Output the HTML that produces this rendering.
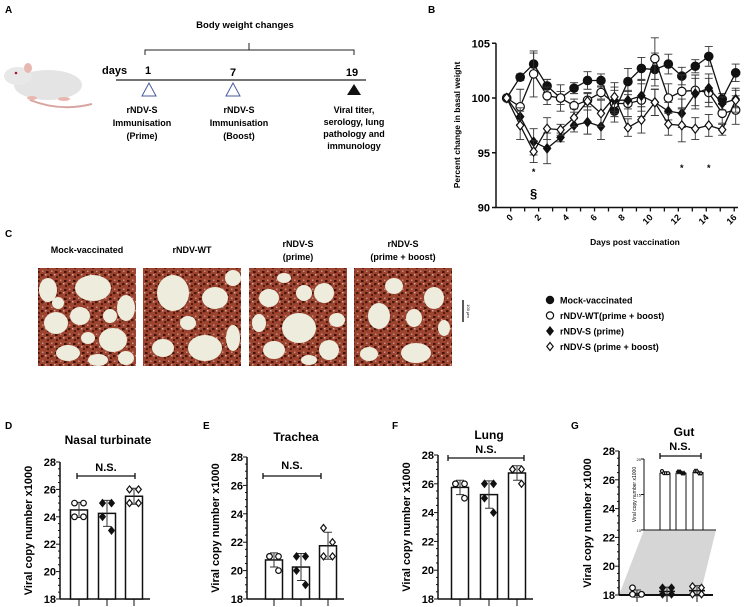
<!DOCTYPE html>
<html><head><meta charset="utf-8"><style>
body{margin:0;background:#fff;}
svg{display:block;font-family:"Liberation Sans",Arial,sans-serif;}
.b{font-weight:bold;}
</style></head><body>
<svg id="fig" width="749" height="607" viewBox="0 0 749 607" xmlns="http://www.w3.org/2000/svg">
<defs>
<pattern id="tissue" width="9" height="9" patternUnits="userSpaceOnUse">
<rect width="9" height="9" fill="#9c4430"/>
<rect x="1" y="1" width="2.5" height="2" fill="#3e120a"/>
<rect x="5" y="4" width="2.5" height="2.2" fill="#4a160c"/>
<rect x="2" y="6" width="2" height="2" fill="#5a1c10"/>
<rect x="6" y="0.5" width="1.5" height="1.5" fill="#c89080"/>
<rect x="0" y="4" width="1.5" height="1.5" fill="#d0a898"/>
</pattern>
</defs>
<g>
<text x="5" y="13" font-size="10" class="b">A</text>
<g>
<path d="M30,100 Q60,112 92,104" stroke="#d9a5a0" stroke-width="2" fill="none"/>
<ellipse cx="48" cy="85" rx="34" ry="15" fill="#e4e4e4"/>
<ellipse cx="18" cy="76" rx="14" ry="9" fill="#e8e8e8"/>
<ellipse cx="28" cy="68" rx="4" ry="5" fill="#e8b8b0"/>
<circle cx="16" cy="73" r="1.3" fill="#a02030"/>
<ellipse cx="32" cy="98" rx="5" ry="2" fill="#e8b8b0"/>
<ellipse cx="64" cy="99" rx="6" ry="2" fill="#e8b8b0"/>
</g>
<text x="245" y="28" font-size="9.5" class="b" text-anchor="middle">Body weight changes</text>
<path d="M145,55 V50 H354 V55 M249,50 V43" stroke="#222" fill="none"/>
<text x="102" y="74" font-size="11" class="b">days</text>
<text x="148" y="74" font-size="11" class="b" text-anchor="middle">1</text>
<text x="233" y="76" font-size="11" class="b" text-anchor="middle">7</text>
<text x="352" y="76" font-size="11" class="b" text-anchor="middle">19</text>
<line x1="116" y1="80" x2="366" y2="80" stroke="#222" stroke-width="1.3"/>
<polygon points="149,83 142,96 156,96" fill="none" stroke="#4a5aa0"/>
<polygon points="233,83 226,96 240,96" fill="none" stroke="#4a5aa0"/>
<polygon points="354,84 347,95 361,95" fill="#111"/>
<g font-size="9" class="b" text-anchor="middle">
<text x="142" y="113">rNDV-S</text><text x="142" y="126">Immunisation</text><text x="142" y="139">(Prime)</text>
<text x="239" y="113">rNDV-S</text><text x="239" y="126">Immunisation</text><text x="239" y="139">(Boost)</text>
<text x="354" y="113">Viral titer,</text><text x="354" y="125">serology, lung</text><text x="354" y="137">pathology and</text><text x="354" y="149">immunology</text>
</g>
</g>
<text x="428" y="13" font-size="10" class="b">B</text>
<g id="pb"></g>
<text x="5" y="237" font-size="10" class="b">C</text>
<g id="pc"></g>
<g id="pd"></g>
<g id="pe"></g>
<g id="pf"></g>
<g id="pg"></g>
</svg>
<script>
const dayIdx = [0,1,2,3,4,5,6,7,8,9,10,11,12,13,14,15,16,17];
const xTickLabels = ["0","2","4","6","8","10","12","14","16"];
const yTicksB = [90,95,100,105];
const mockVals = [100,101.9,103.1,101.1,100,100.9,101.6,101.6,98.8,101.5,102.7,102.6,103.1,102.0,102.9,103.8,99.9,102.3];
const wtVals = [100,99.2,102.2,100.2,100,99.3,99.8,100.5,99.5,99.5,99.8,103.6,100,100.6,100.7,100.5,98.6,98.9];
const sPrimeVals = [100,98.3,96.0,95.4,96.4,97.5,97.8,97.4,99.8,99.8,100.2,99.6,98.8,98.6,100.4,100.9,99.5,99.9];
const sBoostVals = [100,97.5,95.1,97.2,97.1,98.2,99.7,98.6,100.1,97.3,98.0,99.6,97.6,97.5,97.2,97.5,97.1,99.8];
const mockErr = [0,0.3,1.0,0.6,1.2,0.5,0.8,0.6,1.0,1.2,1.0,1.5,0.9,0.8,0.6,0.9,0.5,0.8];
const wtErr = [0,1.6,2.1,0.8,0.6,0.6,0.6,0.6,1.2,1.2,1.5,1.9,1.3,1.5,1.4,1.3,0.9,1.3];
const sPrimeErr = [0,0.8,1.2,1.4,0.4,0.6,1.1,1.2,1.2,0.8,1.4,1.2,0.8,1.3,1.4,1.3,0.6,0.8];
const sBoostErr = [0,1.3,1.0,1.0,0.5,0.8,0.8,1.2,1.3,0.8,1.2,1.2,1.0,1.5,1.0,1.0,0.5,1.1];

const groups = ["rNDV-WT","rNDV-S prime","rNDV-S boost"];
const nasalMeans=[24.5,24.25,25.5], nasalSd=[0.55,0.95,0.58];
const nasalPts=[[25,25,24,24],[25,25,24,23],[26,26,25,25]];
const trachMeans=[20.75,20.25,21.75], trachSd=[0.5,0.95,0.95];
const trachPts=[[21,21,21,20],[21,21,20,19],[23,22,21,21]];
const lungMeans=[25.75,25.25,26.75], lungSd=[0.5,0.95,0.5];
const lungPts=[[26,26,26,25],[26,26,25,24],[27,27,27,26]];
const gutMeans=[18.1,18.25,18.3], gutSd=[0.25,0.3,0.35];
const gutPts=[[18.5,18.05,18.05,18.05],[18.5,18.5,18.05,18.05],[18.6,18.5,18.05,18.05]];
const gutInsetMeans=[18,18,18.1];
const gutInsetPts=[[18.3,18,18,18],[18.2,18.2,18,18],[18.3,18.3,18,18]];
const barTicks=[18,20,22,24,26,28];

const NS="http://www.w3.org/2000/svg";
function mk(parent,tag,attrs){const e=document.createElementNS(NS,tag);for(const k in attrs)e.setAttribute(k,attrs[k]);parent.appendChild(e);return e;}
function txt(parent,x,y,s,size,anchor,bold,extra){const t=mk(parent,'text',Object.assign({x:x,y:y,'font-size':size,'text-anchor':anchor||'start'},extra||{}));if(bold)t.setAttribute('font-weight','bold');t.textContent=s;return t;}
function marker(parent,type,x,y,r){
  let e;
  if(type==='fc'||type==='oc'){e=mk(parent,'circle',{cx:x,cy:y,r:r,fill:type==='fc'?'#111':'#fff',stroke:'#111','stroke-width':1.2});}
  else{e=mk(parent,'polygon',{points:`${x},${y-r*1.25} ${x+r},${y} ${x},${y+r*1.25} ${x-r},${y}`,fill:type==='fd'?'#111':'#fff',stroke:'#111','stroke-width':1.2});}
  return e;
}

(function(){
 const g=document.getElementById('pb');
 const X0=496,yB=v=>98-(v-100)*10.95;
 const xPt=i=>506.7+13.47*i;
 const xTick=k=>510.7+13.97*k;
 const ax=mk(g,'path',{d:`M${X0},${yB(105)} V${yB(90)} H738`,stroke:'#111','stroke-width':1.5,fill:'none'});
 
 yTicksB.forEach(v=>{mk(g,'line',{x1:X0-4,x2:X0,y1:yB(v),y2:yB(v),stroke:'#111','stroke-width':1.5});
  const t=txt(g,X0-6,yB(v)+4,String(v),11,'end',true);});
 for(let k=0;k<=16;k++){mk(g,'line',{x1:xTick(k),x2:xTick(k),y1:yB(90),y2:yB(90)+4,stroke:'#111','stroke-width':1.3});}
 xTickLabels.forEach((s,j)=>{const x=xTick(j*2);const t=txt(g,x+3,218,s,9,'end',true,{transform:`rotate(-45 ${x+3} 218)`});
  });
 const yl=txt(g,460,125,'Percent change in basal weight',8.5,'middle',true,{transform:'rotate(-90 460 125)'});
 
 const xl=txt(g,635,245,'Days post vaccination',8.5,'middle',true);
 
 const series=[[mockVals,mockErr,'fc','mock'],[wtVals,wtErr,'oc','wt'],[sPrimeVals,sPrimeErr,'fd','s-prime'],[sBoostVals,sBoostErr,'od','s-boost']];
 series.forEach(([vals,err,type,nm])=>{
   const sg=mk(g,'g',{});
   vals.forEach((v,i)=>{if(err[i]>0){const x=xPt(dayIdx[i]);mk(sg,'path',{d:`M${x},${yB(v+err[i])} V${yB(v-err[i])} M${x-4},${yB(v+err[i])} H${x+4} M${x-4},${yB(v-err[i])} H${x+4}`,stroke:'#333','stroke-width':0.9,fill:'none'});}});
   const pl=mk(sg,'polyline',{points:vals.map((v,i)=>xPt(dayIdx[i])+','+yB(v)).join(' '),fill:'none',stroke:'#111','stroke-width':1.3});
   
   vals.forEach((v,i)=>{const m=marker(sg,type,xPt(dayIdx[i]),yB(v),type[1]==='c'?4.2:3.6);});
 });
 const a=[[xPt(2),175,'*'],[xPt(13),171,'*'],[xPt(15),171,'*']];
 a.forEach(([x,y,s])=>{const t=txt(g,x,y,s,9,'middle',true);});
 const sec=txt(g,xPt(2),198,'§',13,'middle',true);
 const lg=mk(g,'g',{});
 [['fc','Mock-vaccinated'],['oc','rNDV-WT(prime + boost)'],['fd','rNDV-S (prime)'],['od','rNDV-S (prime + boost)']].forEach(([t,s],i)=>{
   const y=300+i*15.5;marker(lg,t,550,y,t[1]==='c'?3.6:3.2);
   const e=txt(lg,560,y+3.5,s,9,'start',true);});
})();

(function(){
 const g=document.getElementById('pc');
 const titles=[['Mock-vaccinated'],['rNDV-WT'],['rNDV-S','(prime)'],['rNDV-S','(prime + boost)']];
 const xs=[38,143,249,354];
 const blobs=[
  [[55,20,18,13],[18,55,12,11],[75,72,14,12],[42,48,10,9],[88,40,9,13],[30,85,12,8],[10,22,9,12],[60,92,10,6],[72,48,7,7],[20,35,6,6],[50,70,7,6],[88,90,8,7]],
  [[30,25,16,18],[72,30,13,11],[62,80,17,13],[20,80,11,9],[90,70,7,13],[45,55,8,7],[90,10,8,8]],
  [[50,60,17,15],[20,30,10,9],[75,25,10,10],[25,82,11,9],[80,82,10,10],[55,25,8,8],[10,55,7,9],[88,52,8,7],[35,10,7,5],[60,92,8,5]],
  [[25,48,11,13],[62,85,15,10],[80,30,10,11],[40,18,9,8],[15,86,9,7],[60,50,8,9],[90,60,6,8]]];
 titles.forEach((tl,i)=>{
   const cx=xs[i]+49;
   tl.forEach((s,j)=>{const t=txt(g,cx,tl.length===1?253:247+j*13,s,9,'middle',true);});
   const ig=mk(g,'g',{});
   mk(ig,'rect',{x:xs[i],y:268,width:98,height:98,fill:'url(#tissue)'});
   blobs[i].forEach(([bx,by,rx,ry])=>mk(ig,'ellipse',{cx:xs[i]+bx,cy:268+by,rx:rx,ry:ry,fill:'#eeecdc'}));
 });
 mk(g,'line',{x1:463,x2:463,y1:300,y2:322,stroke:'#222','stroke-width':1.5});
 const sb=txt(g,467,311,'100 μm',4,'middle',false,{transform:'rotate(90 467 311)'});
})();

function barPanel(id,o){
 const g=document.getElementById(id);
 const y=v=>o.y18-(v-18)*o.k;
 const l=txt(g,o.lx,o.ly,o.letter,10,'start',true);
 const t=txt(g,o.tx,o.ty,o.title,12,'middle',true);
 const yl=txt(g,o.ax-28,(y(18)+y(28))/2,'Viral copy number  x1000',11,'middle',true,{transform:`rotate(-90 ${o.ax-28} ${(y(18)+y(28))/2})`});
 
 if(o.gut){const gq=mk(g,'polygon',{points:`${o.inset.x},${o.inset.y10} ${o.inset.x+72},${o.inset.y10} ${o.bars[2]+3},${y(18)} ${o.ax},${y(18)}`,fill:'#d6d6d6'});}
 mk(g,'line',{x1:o.ax,x2:o.ax,y1:y(28),y2:y(18),stroke:'#111','stroke-width':1.5});
 mk(g,'line',{x1:o.ax,x2:o.bars[2]+16,y1:y(18),y2:y(18),stroke:'#111','stroke-width':o.gut?2:1.5});
 for(let v=18;v<=28;v+=0.5){mk(g,'line',{x1:o.ax-(v%2===0?4:2),x2:o.ax,y1:y(v),y2:y(v),stroke:'#111','stroke-width':1});}
 barTicks.forEach(v=>{const e=txt(g,o.ax-4,y(v)+4,String(v),11,'end',true);});
 const types=['oc','fd','od'];
 o.bars.forEach((cx,i)=>{
   mk(g,'line',{x1:cx,x2:cx,y1:y(18),y2:y(18)+7,stroke:'#111','stroke-width':1});
   if(!o.gut){const b=mk(g,'rect',{x:cx-8.5,y:y(o.means[i]),width:17,height:y(18)-y(o.means[i]),fill:'#fff',stroke:'#111','stroke-width':1.5});}
   else{const b=mk(g,'line',{x1:cx-8,x2:cx+8,y1:y(o.means[i]),y2:y(o.means[i]),stroke:'#111','stroke-width':1.5});}
   const m=o.means[i],s=o.sd[i];
   mk(g,'path',{d:`M${cx},${y(m+s)} V${y(m-s)} M${cx-4},${y(m+s)} H${cx+4} M${cx-4},${y(m-s)} H${cx+4}`,stroke:'#333','stroke-width':1,fill:'none'});
   o.pts[i].forEach((v,j)=>{const px=cx+(j%2===0?-4.5:4.5);const mm=marker(g,types[i],px,y(v),2.8);});
 });
 const ns=txt(g,o.ns.x,o.ns.ty,'N.S.',11,'middle',true);
 mk(g,'path',{d:`M${o.ns.x1},${o.ns.ly} H${o.ns.x2} M${o.ns.x1},${o.ns.ly-3} V${o.ns.ly+3} M${o.ns.x2},${o.ns.ly-3} V${o.ns.ly+3}`,stroke:'#111','stroke-width':1.3,fill:'none'});
 if(o.gut){
   const I=o.inset;const iy=v=>I.y10-(v-10)*(I.y10-I.y20)/10;
   const ig=mk(g,'g',{});
   mk(ig,'line',{x1:I.x,x2:I.x,y1:iy(20),y2:iy(10),stroke:'#111','stroke-width':1});
   mk(ig,'line',{x1:I.x,x2:I.x+72,y1:iy(10),y2:iy(10),stroke:'#111','stroke-width':1});
   [10,15,20].forEach(v=>{mk(ig,'line',{x1:I.x-3,x2:I.x,y1:iy(v),y2:iy(v),stroke:'#111'});txt(ig,I.x-3,iy(v)+2,String(v),4,'end',false);});
   txt(ig,I.x-8,iy(15),'Viral copy number  x1000',5,'middle',false,{transform:`rotate(-90 ${I.x-8} ${iy(15)})`});
   I.bars.forEach((cx,i)=>{
     const b=mk(ig,'rect',{x:cx-5,y:iy(gutInsetMeans[i]),width:10,height:iy(10)-iy(gutInsetMeans[i]),fill:'#fff',stroke:'#111','stroke-width':1});
     
     gutInsetPts[i].forEach((v,j)=>marker(ig,types[i],cx-3+j*2,iy(v),1.5));
   });
 }
}
barPanel('pd',{letter:'D',lx:5,ly:429,title:'Nasal turbinate',tx:108,ty:444,ax:60,y18:599,k:13.7,bars:[79,107,134],means:nasalMeans,sd:nasalSd,pts:nasalPts,ns:{x:106,ty:471,ly:476,x1:77,x2:135}});
barPanel('pe',{letter:'E',lx:203,ly:429,title:'Trachea',tx:296,ty:441,ax:247,y18:599,k:14.2,bars:[274,301,328],means:trachMeans,sd:trachSd,pts:trachPts,ns:{x:292,ty:469,ly:476,x1:263,x2:321}});
barPanel('pf',{letter:'F',lx:392,ly:429,title:'Lung',tx:489,ty:439,ax:438,y18:599,k:14.4,bars:[460,489,517],means:lungMeans,sd:lungSd,pts:lungPts,ns:{x:486,ty:453,ly:458,x1:448,x2:524}});
barPanel('pg',{letter:'G',lx:571,ly:429,title:'Gut',tx:684,ty:436,ax:619,y18:595,k:14.4,bars:[637,667,697],means:gutMeans,sd:gutSd,pts:gutPts,gut:true,
 inset:{x:644,y10:530,y20:459,bars:[665,681,698]},ns:{x:680,ty:450,ly:456,x1:660,x2:701}});
</script>
</body></html>
